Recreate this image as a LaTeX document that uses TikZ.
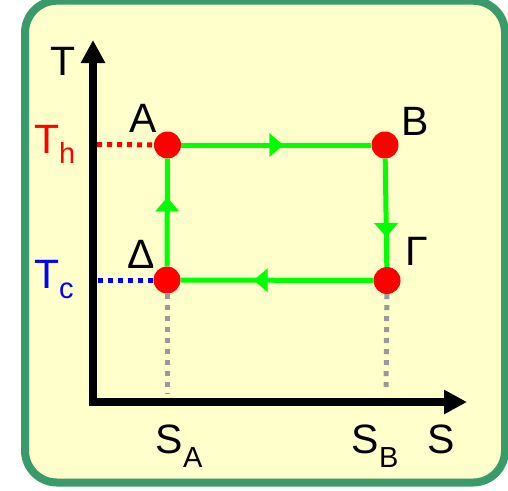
\documentclass[tikz,border=0pt]{standalone}
\usepackage{fontspec}
\setmainfont{Liberation Sans}
\usetikzlibrary{arrows.meta,decorations.markings}
\definecolor{boxgreen}{RGB}{58,155,106}
\definecolor{boxfill}{RGB}{255,255,204}
\definecolor{lime}{RGB}{0,255,0}
\definecolor{dotgray}{RGB}{153,153,153}
\newcommand\lsub[2]{\raisebox{#1}{\fontsize{29}{29}\selectfont #2}}
\begin{document}
\begin{tikzpicture}[x=1pt,y=-1pt,
  statept/.style={circle,fill=red,minimum size=27pt,inner sep=0pt},
  cyc/.style={draw=lime,line width=5pt},
  midtri/.style={postaction={decorate},decoration={markings,mark=at position #1 with {\fill[lime] (7,0) -- (-7,12) -- (-7,-12) -- cycle;}}},
  axisline/.style={line width=7.5pt,line join=miter,{Triangle[length=23pt,width=23pt]}-{Triangle[length=23pt,width=23pt]}},
  dotline/.style={line width=5pt,dash pattern=on 5pt off 5pt},
  lbl/.style={inner sep=0pt,font=\fontsize{41}{41}\selectfont}]
\useasboundingbox (0,0) rectangle (508,490);
\draw[line width=8pt,draw=boxgreen,fill=boxfill,rounded corners=32pt] (25,0.7) rectangle (505,482.5);
% axes
\coordinate (ytop) at (93,40);
\coordinate (orig) at (93,402);
\coordinate (xend) at (467,402);
\draw[axisline] (ytop) -- (orig) -- (xend);
% states
\node[statept] (A) at (167.5,145) {};
\node[statept] (B) at (385,145) {};
\node[statept] (G) at (387,280.5) {};
\node[statept] (D) at (167,280) {};
% guide lines
\coordinate (th) at (97,144.5);
\coordinate (tc) at (97.5,280);
\coordinate (sa) at (167,393);
\coordinate (sb) at (386,393);
\draw[dotline,red] (th) -- (A);
\draw[dotline,blue] (tc) -- (D);
\draw[dotline,dotgray,dash pattern=on 5pt off 6pt] (D) -- (sa);
\draw[dotline,dotgray,dash pattern=on 5pt off 6pt] (G) -- (sb);
% cycle
\draw[cyc,midtri=0.5] (A) -- (B);
\draw[cyc,midtri=0.66] (B) -- (G);
\draw[cyc,midtri=0.585] (G) -- (D);
\draw[cyc,midtri=0.576] (D) -- (A);
% labels
\node[lbl,anchor=base] (lT) at (63.3,75) {T};
\node[lbl,anchor=base] (lA) at (143.5,132) {A};
\node[lbl,anchor=base] (lB) at (415,135) {B};
\node[lbl,anchor=base west] (lG) at (405,265) {Γ};
\node[lbl,anchor=base] (lD) at (141,268) {Δ};
\node[lbl,anchor=base west,red] (lTh) at (34,153) {T\lsub{-10pt}{h}};
\node[lbl,anchor=base west,blue] (lTc) at (34,288) {T\lsub{-10pt}{c}};
\node[lbl,anchor=base west] (lSA) at (155.5,453.5) {S\lsub{-13.5pt}{A}};
\node[lbl,anchor=base west] (lSB) at (351.5,453.5) {S\lsub{-13.5pt}{B}};
\node[lbl,anchor=base] (lS) at (441.5,453.5) {S};
\end{tikzpicture}
\end{document}
